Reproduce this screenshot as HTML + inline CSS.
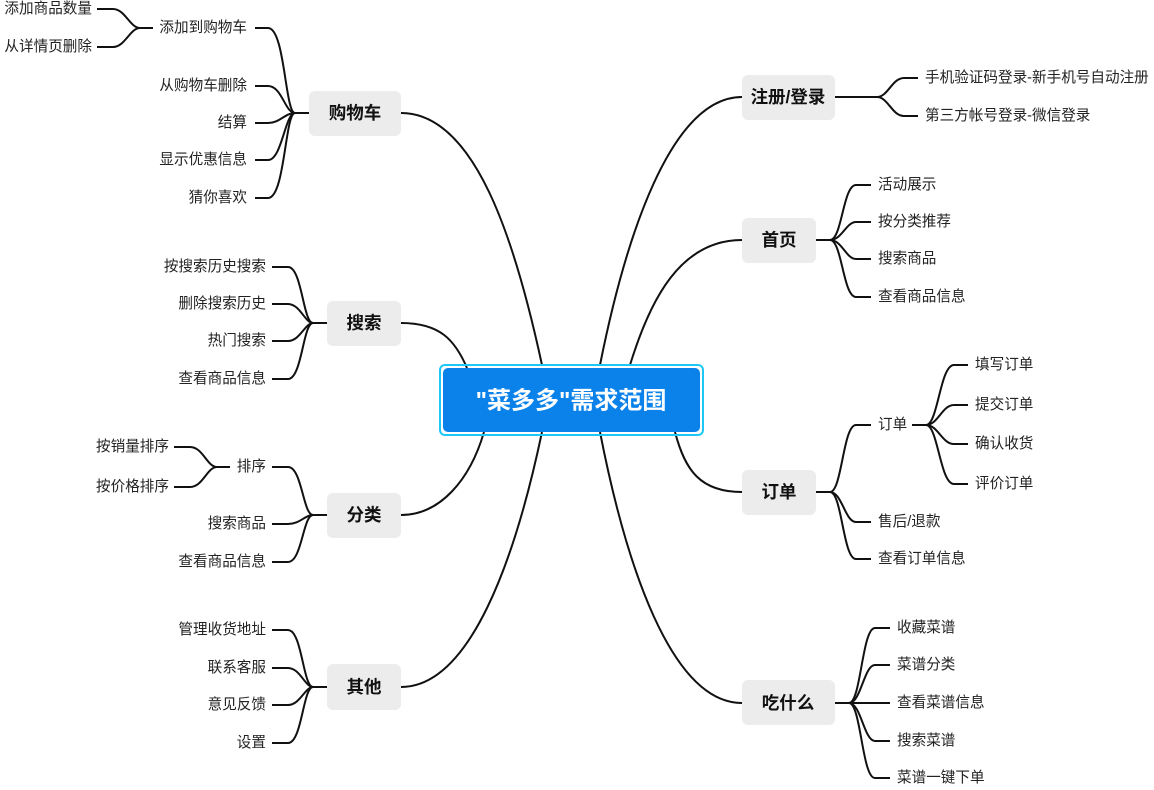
<!DOCTYPE html>
<html><head><meta charset="utf-8"><style>
html,body{margin:0;padding:0;background:#fff;}
svg{display:block;}
text{font-family:"Liberation Sans","Noto Sans CJK SC",sans-serif;fill:#222;}
.l{font-size:14.6px;dominant-baseline:central;}
.r{text-anchor:end;}
.m{font-size:17.5px;font-weight:bold;text-anchor:middle;dominant-baseline:central;fill:#111;}
path{fill:none;stroke:#111;stroke-width:2;}
</style></head><body>
<svg width="1154" height="790" viewBox="0 0 1154 790">
<path d="M401 113C475 113 515 240 542 365"/>
<path d="M401 323C440 323 455 340 467 368"/>
<path d="M401 515C440 515 470 480 484 432"/>
<path d="M401 687C470 687 515 560 542 432"/>
<path d="M742 97C670 97 625 240 600 365"/>
<path d="M742 240C680 240 650 300 630 365"/>
<path d="M742 492C700 492 685 470 675 432"/>
<path d="M742 703C670 703 625 560 600 432"/>

<path d="M295 113H309"/>
<path d="M255 28H268C285 28 285 113 295 113"/>
<path d="M255 86H268C282 86 285 113 295 113"/>
<path d="M255 123H268C280 123 285 113 295 113"/>
<path d="M255 160H268C282 160 285 113 295 113"/>
<path d="M255 198H268C285 198 285 113 295 113"/>
<path d="M140 28H153"/>
<path d="M97 9H113C125 9 130 28 140 28"/>
<path d="M97 47H113C125 47 130 28 140 28"/>
<path d="M313 323H327"/>
<path d="M272 267H288C302 267 303 323 313 323"/>
<path d="M272 304H288C300 304 305 323 313 323"/>
<path d="M272 341H288C300 341 305 323 313 323"/>
<path d="M272 379H288C302 379 303 323 313 323"/>
<path d="M313 515H327"/>
<path d="M272 467H288C302 467 303 515 313 515"/>
<path d="M272 524H288C300 524 305 515 313 515"/>
<path d="M272 562H288C302 562 303 515 313 515"/>
<path d="M217 467H230"/>
<path d="M174 447H190C203 447 207 467 217 467"/>
<path d="M174 487H190C203 487 207 467 217 467"/>
<path d="M313 687H327"/>
<path d="M272 630H288C302 630 303 687 313 687"/>
<path d="M272 668H288C300 668 305 687 313 687"/>
<path d="M272 705H288C300 705 305 687 313 687"/>
<path d="M272 743H288C302 743 303 687 313 687"/>
<path d="M835 97H877"/>
<path d="M877 97C888 97 892 78 904 78H918"/>
<path d="M877 97C888 97 892 116 904 116H918"/>
<path d="M816 240H830"/>
<path d="M830 240C842 240 843 185 856 185H871"/>
<path d="M830 240C842 240 846 222 856 222H871"/>
<path d="M830 240C842 240 846 259 856 259H871"/>
<path d="M830 240C842 240 843 297 856 297H871"/>
<path d="M816 492H830"/>
<path d="M830 492C842 492 843 425 856 425H871"/>
<path d="M830 492C842 492 845 522 856 522H871"/>
<path d="M830 492C842 492 843 559 856 559H871"/>
<path d="M912 425H926"/>
<path d="M926 425C938 425 940 365 954 365H968"/>
<path d="M926 425C938 425 942 405 954 405H968"/>
<path d="M926 425C938 425 942 444 954 444H968"/>
<path d="M926 425C938 425 940 484 954 484H968"/>
<path d="M835 703H849"/>
<path d="M849 703C861 703 862 628 875 628H890"/>
<path d="M849 703C861 703 864 665 875 665H890"/>
<path d="M849 703H890"/>
<path d="M849 703C861 703 864 741 875 741H890"/>
<path d="M849 703C861 703 862 778 875 778H890"/>

<rect x="440" y="365" width="263" height="70" rx="5" fill="none" stroke="#1ec8f5" stroke-width="2"/>
<rect x="443" y="368" width="257" height="64" rx="5" fill="#0a82ea"/>
<text x="571" y="401" style="font-size:24px;font-weight:bold;fill:#fff;text-anchor:middle;dominant-baseline:central;">"菜多多"需求范围</text>

<rect x="309" y="91" width="92" height="45" rx="6" fill="#ececec"/><text class="m" x="355" y="113">购物车</text>
<rect x="327" y="301" width="74" height="45" rx="6" fill="#ececec"/><text class="m" x="364" y="323">搜索</text>
<rect x="327" y="493" width="74" height="45" rx="6" fill="#ececec"/><text class="m" x="364" y="515">分类</text>
<rect x="327" y="664" width="74" height="46" rx="6" fill="#ececec"/><text class="m" x="364" y="687">其他</text>
<rect x="742" y="75" width="93" height="45" rx="6" fill="#ececec"/><text class="m" x="788" y="97">注册/登录</text>
<rect x="742" y="218" width="74" height="45" rx="6" fill="#ececec"/><text class="m" x="779" y="240">首页</text>
<rect x="742" y="470" width="74" height="45" rx="6" fill="#ececec"/><text class="m" x="779" y="492">订单</text>
<rect x="742" y="680" width="93" height="45" rx="6" fill="#ececec"/><text class="m" x="788" y="703">吃什么</text>

<text class="l r" x="247" y="28">添加到购物车</text>
<text class="l r" x="247" y="86">从购物车删除</text>
<text class="l r" x="247" y="123">结算</text>
<text class="l r" x="247" y="160">显示优惠信息</text>
<text class="l r" x="247" y="198">猜你喜欢</text>
<text class="l r" x="92" y="9">添加商品数量</text>
<text class="l r" x="92" y="47">从详情页删除</text>
<text class="l r" x="266" y="267">按搜索历史搜索</text>
<text class="l r" x="266" y="304">删除搜索历史</text>
<text class="l r" x="266" y="341">热门搜索</text>
<text class="l r" x="266" y="379">查看商品信息</text>
<text class="l r" x="266" y="467">排序</text>
<text class="l r" x="266" y="524">搜索商品</text>
<text class="l r" x="266" y="562">查看商品信息</text>
<text class="l r" x="169" y="447">按销量排序</text>
<text class="l r" x="169" y="487">按价格排序</text>
<text class="l r" x="266" y="630">管理收货地址</text>
<text class="l r" x="266" y="668">联系客服</text>
<text class="l r" x="266" y="705">意见反馈</text>
<text class="l r" x="266" y="743">设置</text>

<text class="l" x="925" y="78">手机验证码登录-新手机号自动注册</text>
<text class="l" x="925" y="116">第三方帐号登录-微信登录</text>
<text class="l" x="878" y="185">活动展示</text>
<text class="l" x="878" y="222">按分类推荐</text>
<text class="l" x="878" y="259">搜索商品</text>
<text class="l" x="878" y="297">查看商品信息</text>
<text class="l" x="878" y="425">订单</text>
<text class="l" x="878" y="522">售后/退款</text>
<text class="l" x="878" y="559">查看订单信息</text>
<text class="l" x="975" y="365">填写订单</text>
<text class="l" x="975" y="405">提交订单</text>
<text class="l" x="975" y="444">确认收货</text>
<text class="l" x="975" y="484">评价订单</text>
<text class="l" x="897" y="628">收藏菜谱</text>
<text class="l" x="897" y="665">菜谱分类</text>
<text class="l" x="897" y="703">查看菜谱信息</text>
<text class="l" x="897" y="741">搜索菜谱</text>
<text class="l" x="897" y="778">菜谱一键下单</text>
</svg>
</body></html>
